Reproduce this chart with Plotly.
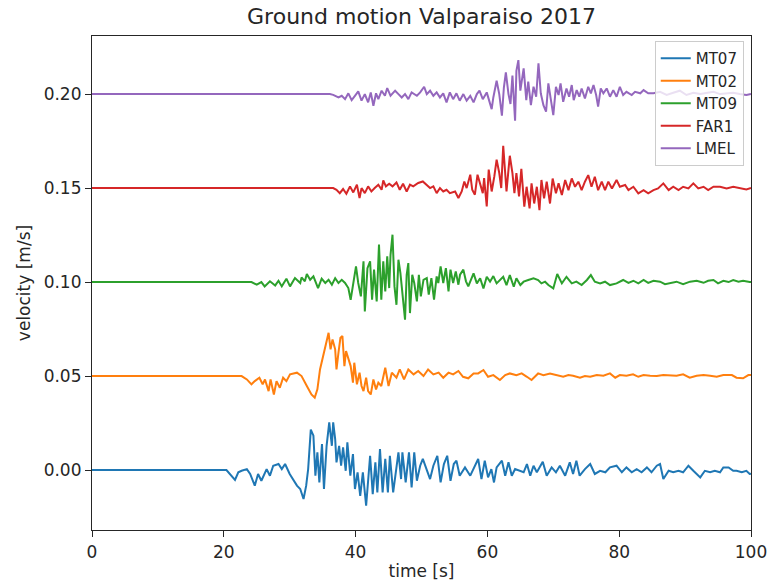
import plotly.graph_objects as go

stations = ["MT07", "MT02", "MT09", "FAR1", "LMEL"]
offsets = [0.00, 0.05, 0.10, 0.15, 0.20]
colors = ["#1f77b4", "#ff7f0e", "#2ca02c", "#d62728", "#9467bd"]

t_mt07 = [0, 20.4, 21.7, 22.2, 22.7, 23.5, 24.0, 24.7, 25.2, 25.7, 26.5, 27.0, 27.5, 28.3, 28.8, 29.3, 30.0, 31.1, 31.6, 32.1,
          32.5, 32.8, 33.2, 33.6, 33.9, 34.2, 34.5, 34.9, 35.2, 35.6, 36.0, 36.4, 36.6, 36.9, 37.1, 37.5, 37.8, 38.1, 38.5, 38.75,
          39.2, 39.6, 39.9, 40.3, 40.7, 41.1, 41.6, 41.9, 42.2, 42.6, 43.0, 43.3, 43.7, 44.1, 44.5, 44.9, 45.2, 45.7, 46.1, 46.5,
          46.9, 47.1, 47.6, 48.1, 48.5, 48.9, 49.3, 49.8, 50.2, 50.8, 51.3, 51.8, 52.4, 52.9, 53.4, 53.9, 54.4, 54.9, 55.3, 55.8,
          56.6, 57.4, 58.1, 58.6, 59.1, 59.6, 60.1, 60.6, 61.0, 61.4, 62.2, 62.7, 63.2, 63.7, 64.2, 65.0, 65.5, 66.0, 66.5, 67.0,
          67.5, 68.4, 69.0, 69.75, 70.4, 71.0, 71.8, 72.5, 73.0, 73.5, 74.0, 74.8, 75.6, 76.3, 77.1, 77.9, 78.6, 79.6, 80.4, 81.1,
          81.9, 82.65, 83.4, 84.2, 84.9, 85.7, 86.2, 86.7, 87.5, 88.2, 89.0, 89.7, 90.5, 91.25, 92.3, 93.0, 93.8, 94.5, 95.3, 95.8,
          96.6, 97.3, 97.8, 98.6, 99.3, 99.8, 100]
v_mt07 = [0, 0, -0.0053, -0.0012, -0.0004, 0.0005, -0.0021, -0.0083, -0.0021, -0.0057, 0.0005, -0.0030, 0.0023, 0.0032, 0.0005, 0.0032, -0.0021, -0.0083, -0.0101, -0.0154,
          -0.0083, 0.0005, 0.0215, 0.0183, -0.0030, 0.0094, -0.0066, 0.0138, -0.0101, 0.0129, 0.0254, 0.0129, 0.0254, 0.0165, 0.0041, 0.0129, 0.0023, 0.0121, -0.0004, 0.0147,
          -0.0030, 0.0085, -0.0101, -0.0012, -0.0137, -0.0012, -0.0190, -0.0030, 0.0076, -0.0128, 0.0041, -0.0119, 0.0112, -0.0119, 0.0059, -0.0119, 0.0076, -0.0119, -0.0004, 0.0094,
          -0.0048, 0.0094, -0.0066, 0.0094, -0.0092, 0.0094, -0.0057, 0.0023, 0.0059, 0.0005, -0.0048, 0.0023, 0.0076, -0.0066, 0.0032, 0.0076, -0.0057, 0.0032, 0.0050, -0.0030,
          0.0014, -0.0030, 0.0023, 0.0059, -0.0048, 0.0050, -0.0039, 0.0005, -0.0066, 0.0014, 0.0050, -0.0030, 0.0041, -0.0030, 0.0005, -0.0004, -0.0012, 0.0032, -0.0030, 0.0023,
          -0.0012, 0.0044, -0.0030, 0.0014, -0.0012, 0.0023, -0.0030, 0.0041, -0.0021, 0.0050, -0.0030, 0.0005, 0.0032, -0.0021, -0.0004, -0.0012, 0.0014, 0.0023, -0.0012, 0.0014,
          -0.0012, 0.0005, -0.0012, 0.0014, -0.0012, 0.0023, 0.0032, -0.0048, -0.0004, -0.0012, -0.0004, -0.0012, 0.0023, -0.0004, -0.0039, -0.0004, -0.0012, -0.0004, -0.0012, 0.0014,
          0.0014, -0.0004, -0.0004, -0.0012, -0.0004, -0.0021, -0.0020]

t_mt02 = [0, 22.7, 23.5, 24.2, 24.7, 25.4, 25.9, 26.25, 26.8, 27.1, 27.6, 28.0, 28.5, 29.0, 29.5, 30.05, 31.1, 31.8, 32.6, 33.3,
          33.8, 34.2, 34.6, 35.1, 35.5, 35.9, 36.2, 36.5, 36.9, 37.1, 37.4, 37.7, 38.0, 38.3, 38.55, 38.9, 39.25, 39.6, 39.8, 40.2,
          40.6, 40.9, 41.2, 41.6, 41.9, 42.3, 42.7, 43.1, 43.45, 43.9, 44.5, 45.0, 45.5, 46.2, 46.7, 47.35, 48.0, 48.8, 49.5, 50.3,
          51.0, 51.8, 52.6, 53.3, 54.1, 54.8, 55.6, 56.3, 57.1, 57.9, 58.6, 59.4, 60.1, 60.9, 61.9, 62.7, 63.4, 64.4, 65.2, 66.0,
          66.7, 67.7, 68.5, 69.5, 70.5, 71.5, 72.3, 73.0, 74.05, 74.8, 75.6, 76.6, 77.6, 78.6, 79.4, 80.1, 81.1, 82.1, 82.9, 83.7,
          84.7, 85.7, 86.7, 87.7, 88.7, 89.7, 90.7, 91.75, 92.8, 93.8, 94.8, 95.8, 97.1, 97.8, 98.8, 99.6, 100]
v_mt02 = [0, 0, -0.0018, -0.0044, -0.0027, -0.0009, -0.0044, -0.0018, -0.0080, -0.0018, -0.0098, -0.0027, -0.0062, -0.0009, -0.0027, 0.0009, 0.0018, 0.0000, -0.0053, -0.0098,
          -0.0115, -0.0071, 0.0035, 0.0106, 0.0160, 0.0230, 0.0142, 0.0195, 0.0142, 0.0035, 0.0124, 0.0204, 0.0213, 0.0053, 0.0133, 0.0089, 0.0053, -0.0035, 0.0071, -0.0044,
          0.0018, -0.0053, -0.0080, -0.0009, -0.0080, -0.0098, -0.0018, -0.0071, -0.0035, -0.0053, 0.0044, -0.0053, 0.0018, -0.0009, 0.0035, -0.0018, 0.0035, 0.0009, 0.0027, 0.0000,
          0.0035, 0.0009, 0.0018, -0.0009, 0.0018, 0.0009, 0.0027, -0.0004, -0.0012, 0.0014, 0.0014, 0.0032, -0.0004, 0.0005, -0.0021, 0.0005, 0.0014, 0.0005, 0.0014, -0.0004,
          -0.0021, 0.0014, 0.0005, 0.0014, 0.0005, -0.0004, 0.0005, 0.0002, -0.0009, 0.0000, -0.0004, 0.0005, 0.0002, 0.0014, -0.0009, 0.0005, 0.0002, 0.0009, -0.0004, 0.0005,
          0.0002, 0.0000, 0.0005, 0.0002, 0.0002, 0.0009, -0.0009, 0.0002, 0.0005, 0.0002, -0.0004, 0.0005, 0.0005, -0.0009, -0.0012, 0.0005, 0.0005]

t_mt09 = [0, 24.2, 25.0, 25.7, 26.2, 27.0, 27.8, 28.3, 28.8, 29.5, 30.05, 30.8, 31.6, 31.8, 32.3, 32.6, 33.1, 33.6, 34.3, 34.85,
          35.4, 35.9, 36.4, 36.9, 37.4, 37.9, 38.4, 38.9, 39.25, 39.65, 40.06, 40.4, 40.8, 41.2, 41.4, 41.8, 42.2, 42.5, 42.8, 43.2,
          43.55, 43.9, 44.2, 44.5, 44.8, 45.1, 45.3, 45.6, 45.9, 46.2, 46.5, 46.8, 47.1, 47.5, 47.75, 48.0, 48.25, 48.6, 48.9, 49.3,
          49.6, 49.9, 50.3, 50.8, 51.1, 51.5, 51.9, 52.3, 52.55, 52.9, 53.3, 53.7, 54.1, 54.4, 54.8, 55.2, 55.6, 55.85, 56.35, 56.75,
          57.1, 57.9, 58.4, 58.9, 59.4, 59.9, 60.4, 60.9, 61.4, 61.9, 62.4, 62.9, 63.4, 64.0, 64.4, 65.0, 65.5, 66.2, 67.0, 67.7,
          68.2, 68.75, 69.25, 70.0, 70.6, 71.3, 72.0, 72.8, 73.5, 74.3, 75.1, 75.7, 76.3, 77.1, 77.85, 78.6, 79.6, 80.6, 81.4, 82.15,
          82.9, 83.7, 84.4, 85.2, 86.2, 86.95, 87.7, 88.7, 89.7, 90.75, 91.75, 92.8, 93.5, 94.3, 95.0, 95.8, 96.6, 97.3, 98.1, 98.8,
          99.8, 100]
v_mt09 = [0, 0, -0.0014, 0.0000, -0.0023, 0.0004, -0.0018, 0.0007, -0.0023, 0.0018, -0.0023, 0.0021, -0.0005, 0.0025, 0.0004, 0.0043, 0.0012, 0.0030, -0.0032, 0.0018,
          -0.0005, 0.0012, -0.0014, 0.0021, -0.0005, 0.0012, -0.0005, -0.0032, -0.0094, -0.0014, 0.0083, -0.0005, -0.0076, 0.0110, -0.0156, 0.0074, 0.0110, -0.0094, 0.0066, -0.0103,
          0.0199, -0.0094, 0.0110, -0.0050, 0.0137, -0.0032, 0.0145, 0.0252, -0.0023, -0.0121, 0.0119, 0.0048, -0.0050, -0.0200, 0.0039, 0.0101, -0.0165, 0.0039, -0.0005, -0.0103,
          0.0039, -0.0076, 0.0012, 0.0021, -0.0067, 0.0021, -0.0094, 0.0030, -0.0005, 0.0083, -0.0005, 0.0074, -0.0050, 0.0066, -0.0005, 0.0057, -0.0014, 0.0039, 0.0066, 0.0004,
          -0.0023, 0.0046, -0.0007, 0.0020, -0.0034, 0.0028, 0.0002, 0.0032, -0.0007, 0.0011, 0.0028, -0.0016, 0.0037, -0.0025, 0.0020, -0.0016, 0.0002, 0.0011, 0.0020, 0.0011,
          -0.0007, 0.0002, -0.0016, -0.0034, 0.0043, -0.0007, 0.0028, -0.0007, 0.0002, -0.0016, 0.0011, 0.0037, 0.0002, -0.0007, 0.0002, -0.0016, -0.0007, 0.0011, -0.0004, 0.0007,
          -0.0007, 0.0011, -0.0004, 0.0007, 0.0002, -0.0011, -0.0004, 0.0002, -0.0011, 0.0002, 0.0007, -0.0004, 0.0007, 0.0011, -0.0007, 0.0007, 0.0000, 0.0011, 0.0002, 0.0007,
          0.0000, 0.0000]

t_far1 = [0, 36.6, 37.1, 37.6, 38.1, 38.6, 39.15, 39.65, 40.2, 40.6, 40.9, 41.4, 41.9, 42.4, 42.9, 43.45, 43.95, 44.2, 44.6, 45.1,
          45.6, 46.2, 46.7, 47.2, 47.75, 48.25, 48.75, 49.5, 50.2, 50.8, 51.3, 51.8, 52.3, 52.8, 53.3, 53.8, 54.3, 55.1, 55.6, 56.1,
          56.5, 56.85, 57.4, 57.7, 58.1, 58.5, 58.9, 59.3, 59.5, 59.9, 60.2, 60.65, 61.05, 61.4, 61.8, 62.1, 62.4, 62.7, 62.9, 63.2,
          63.4, 63.8, 64.1, 64.4, 64.8, 65.15, 65.6, 65.95, 66.4, 66.7, 67.1, 67.5, 67.9, 68.2, 68.6, 69.0, 69.5, 69.9, 70.4, 70.8,
          71.3, 71.8, 72.3, 72.8, 73.3, 73.8, 74.3, 74.8, 75.3, 75.8, 76.3, 76.8, 77.35, 77.85, 78.35, 78.9, 79.6, 80.1, 80.9, 81.4,
          82.15, 82.9, 83.7, 84.4, 85.2, 85.9, 86.7, 87.5, 88.2, 89.0, 89.7, 90.5, 91.25, 92.0, 92.8, 93.5, 94.3, 95.3, 96.3, 97.3,
          98.3, 99.3, 100]
v_far1 = [0, 0, -0.0009, -0.0027, -0.0005, -0.0030, 0.0009, -0.0023, 0.0018, -0.0053, 0.0000, -0.0027, 0.0009, -0.0018, 0.0000, 0.0018, -0.0009, 0.0041, 0.0009, 0.0023,
          0.0009, 0.0030, -0.0009, 0.0023, -0.0018, 0.0018, 0.0009, 0.0027, 0.0035, 0.0018, 0.0000, 0.0009, -0.0027, 0.0000, -0.0018, -0.0009, -0.0027, -0.0018, -0.0053, -0.0018,
          0.0035, 0.0000, 0.0071, -0.0009, -0.0035, 0.0071, 0.0027, -0.0027, 0.0053, -0.0098, 0.0098, -0.0018, 0.0062, 0.0151, 0.0080, 0.0000, 0.0225, 0.0044, -0.0018, 0.0098,
          0.0172, 0.0080, -0.0027, 0.0080, -0.0044, 0.0102, -0.0099, 0.0007, -0.0108, 0.0025, -0.0082, 0.0007, -0.0117, 0.0043, -0.0055, 0.0034, -0.0082, 0.0051, -0.0028, 0.0025,
          -0.0037, 0.0043, -0.0011, 0.0051, 0.0007, 0.0034, -0.0011, 0.0034, 0.0069, 0.0007, 0.0060, -0.0011, 0.0034, -0.0011, 0.0034, -0.0002, 0.0043, 0.0007, 0.0016, -0.0011,
          0.0007, -0.0028, -0.0011, -0.0028, -0.0011, -0.0002, 0.0025, -0.0011, 0.0007, -0.0011, 0.0007, -0.0002, 0.0025, -0.0002, 0.0007, -0.0011, 0.0007, 0.0007, -0.0002, 0.0007,
          -0.0002, -0.0007, 0.0000]

t_lmel = [0, 36.1, 36.6, 37.4, 37.9, 38.4, 38.9, 39.4, 39.9, 40.4, 40.9, 41.4, 41.9, 42.3, 42.7, 43.1, 43.45, 43.95, 44.45, 44.8,
          45.3, 46.0, 46.5, 47.0, 47.5, 48.0, 48.5, 49.3, 49.8, 50.4, 50.8, 51.3, 51.8, 52.3, 52.8, 53.3, 53.8, 54.3, 54.8, 55.3,
          55.8, 56.35, 56.85, 57.4, 57.9, 58.4, 58.8, 59.3, 59.9, 60.3, 60.65, 60.9, 61.4, 61.8, 62.2, 62.5, 62.8, 63.2, 63.5, 63.8,
          64.2, 64.4, 64.7, 65.0, 65.5, 65.9, 66.2, 66.6, 67.0, 67.4, 67.75, 68.1, 68.5, 68.9, 69.25, 69.6, 70.0, 70.4, 70.8, 71.1,
          71.5, 72.0, 72.4, 72.8, 73.1, 73.55, 73.95, 74.3, 74.8, 75.3, 75.7, 76.1, 76.5, 76.8, 77.2, 77.6, 78.1, 78.6, 79.1, 79.6,
          80.1, 80.6, 81.1, 81.9, 82.4, 83.2, 83.7, 84.4, 85.2, 86.2, 87.2, 88.2, 89.2, 90.2, 91.25, 92.3, 93.3, 94.3, 95.3, 96.3,
          97.3, 98.3, 99.3, 100]
v_lmel = [0, 0, -0.0004, -0.0018, -0.0009, -0.0027, 0.0004, -0.0032, -0.0009, 0.0014, -0.0035, 0.0000, -0.0044, 0.0009, -0.0062, 0.0004, -0.0027, 0.0018, -0.0009, 0.0032,
          -0.0009, 0.0018, 0.0000, -0.0018, 0.0000, -0.0027, 0.0009, -0.0009, 0.0009, 0.0039, 0.0000, 0.0018, -0.0009, 0.0009, -0.0018, 0.0004, -0.0044, 0.0009, -0.0027, 0.0004,
          -0.0035, 0.0000, -0.0035, -0.0009, -0.0044, 0.0000, 0.0018, -0.0027, 0.0009, -0.0044, -0.0080, -0.0018, 0.0071, 0.0000, -0.0115, 0.0035, 0.0115, 0.0000, -0.0053, 0.0098,
          -0.0142, 0.0124, 0.0181, 0.0018, 0.0137, -0.0032, 0.0066, -0.0059, 0.0039, -0.0014, 0.0163, 0.0004, -0.0059, -0.0094, 0.0057, -0.0023, -0.0112, 0.0039, -0.0005, 0.0057,
          -0.0041, 0.0030, -0.0014, 0.0048, -0.0032, 0.0021, -0.0014, 0.0030, -0.0023, 0.0039, 0.0004, 0.0048, -0.0005, -0.0067, 0.0030, 0.0004, 0.0030, -0.0014, 0.0021, -0.0014,
          0.0039, -0.0005, 0.0012, -0.0005, 0.0012, 0.0004, 0.0021, 0.0004, 0.0004, 0.0012, -0.0005, 0.0007, 0.0018, -0.0005, 0.0007, 0.0000, 0.0007, 0.0012, 0.0000, 0.0004,
          0.0007, 0.0000, -0.0005, 0.0000]

times = [t_mt07, t_mt02, t_mt09, t_far1, t_lmel]
vels = [v_mt07, v_mt02, v_mt09, v_far1, v_lmel]

TXT = "#262626"
FONT = "DejaVu Sans"

fig = go.Figure()
for name, off, col, t, v in zip(stations, offsets, colors, times, vels):
    fig.add_trace(go.Scatter(x=t, y=[val + off for val in v], mode="lines", name=name,
                             line=dict(color=col, width=2)))

axis_common = dict(showline=True, mirror=True, linecolor=TXT, linewidth=1.2,
                   ticks="outside", ticklen=6, tickwidth=1.2, tickcolor=TXT,
                   showgrid=False, zeroline=False, automargin=False,
                   tickfont=dict(family=FONT, size=17, color=TXT))

fig.update_layout(
    width=770, height=588,
    margin=dict(l=92, r=19, t=36, b=58),
    paper_bgcolor="white", plot_bgcolor="white",
    font=dict(family=FONT, color=TXT),
    title=dict(text="Ground motion Valparaiso 2017", x=0.5, xref="paper", xanchor="center",
               y=1 - 16 / 588, yanchor="middle", font=dict(family=FONT, size=22, color=TXT)),
    xaxis=dict(range=[0, 100], dtick=20, tick0=0,
               title=dict(text="time [s]", font=dict(family=FONT, size=17, color=TXT), standoff=4),
               **axis_common),
    yaxis=dict(range=[-0.0319, 0.2309], dtick=0.05, tick0=0, tickformat=".2f",
               title=dict(text="velocity [m/s]", font=dict(family=FONT, size=17, color=TXT), standoff=8),
               **axis_common),
    legend=dict(x=0.989, y=0.99, xanchor="right", yanchor="top",
                bgcolor="rgba(255,255,255,0.8)", bordercolor="#cccccc", borderwidth=1,
                font=dict(family=FONT, size=15, color=TXT), tracegroupgap=0),
    showlegend=True,
)

fig.write_html("out.html")
